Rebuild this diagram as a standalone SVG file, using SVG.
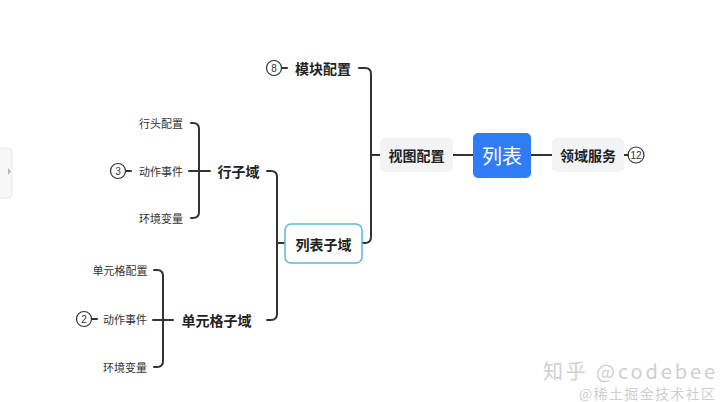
<svg xmlns="http://www.w3.org/2000/svg" width="720" height="402" viewBox="0 0 720 402">
<style>
text{font-family:"Noto Sans CJK SC","Liberation Sans",sans-serif;fill:#222;dominant-baseline:central}
.b{font-size:14px;font-weight:bold;text-anchor:middle}
.l{font-size:11px;text-anchor:middle;fill:#333}
.n{font-size:10px;text-anchor:middle;fill:#333;font-family:"Liberation Sans",sans-serif}
.c{fill:none;stroke:#333;stroke-width:2;stroke-linecap:round}
.t{fill:none;stroke:#333;stroke-width:1.2}
.g{fill:#F2F3F5}
</style>
<rect width="720" height="402" fill="#fff"/>
<g id="sidetab">
<rect x="-6" y="148" width="18" height="50" rx="4" fill="#f7f7f7" stroke="#e6e6e6"/>
<path d="M8 168 L11 171.5 L8 175 Z" fill="#b5b5b5"/>
</g>
<g id="connectors">
<path class="c" d="M453 155 H473"/>
<path class="c" d="M531 155 H552"/>
<path class="c" d="M624 155 H628"/>
<path class="c" d="M380 155 H371"/>
<path class="c" d="M359 68 H365 Q371 68 371 74 V237 Q371 243 365 243 H362"/>
<path class="c" d="M282 68 H287"/>
<path class="c" d="M285 243 H277"/>
<path class="c" d="M267 171 H271 Q277 171 277 177 V314 Q277 320 271 320 H267"/>
<path class="c" d="M191 123 H193 Q199 123 199 129 V212 Q199 218 193 218 H191"/>
<path class="c" d="M189 171 H210"/>
<path class="c" d="M126 171 H131"/>
<path class="c" d="M154 270 H157 Q163 270 163 276 V361 Q163 367 157 367 H154"/>
<path class="c" d="M153 320 H173"/>
<path class="c" d="M92 319 H97"/>
</g>
<g id="n-root">
<rect x="473" y="133" width="58" height="45" rx="5" fill="#2F7CF6"/>
<text x="502" y="155.5" style="font-size:20px;fill:#fff;text-anchor:middle">列表</text>
</g>
<g id="n-view">
<rect class="g" x="380" y="138" width="73" height="34" rx="5"/>
<text class="b" x="416.5" y="155">视图配置</text>
</g>
<g id="n-service">
<rect class="g" x="552" y="138" width="72" height="34" rx="5"/>
<text class="b" x="588" y="155">领域服务</text>
<circle class="t" cx="636" cy="155" r="8" fill="#fff"/>
<text class="n" x="636" y="155.5">12</text>
</g>
<g id="n-module">
<text class="b" x="323" y="68">模块配置</text>
<circle class="t" cx="274" cy="68" r="7.5" fill="#fff"/>
<text class="n" x="274" y="68.5">8</text>
</g>
<g id="n-listsub">
<rect x="285" y="224" width="77" height="39" rx="6" fill="#fff" stroke="#5BB8DA" stroke-width="1.5"/>
<text class="b" x="323.5" y="243.5">列表子域</text>
</g>
<g id="n-row">
<text class="b" x="238.5" y="171">行子域</text>
</g>
<g id="n-row-head"><text class="l" x="161" y="123">行头配置</text></g>
<g id="n-row-action">
<text class="l" x="161" y="171">动作事件</text>
<circle class="t" cx="118" cy="171" r="7.5" fill="#fff"/>
<text class="n" x="118" y="171.5">3</text>
</g>
<g id="n-row-env"><text class="l" x="161" y="218">环境变量</text></g>
<g id="n-cell">
<text class="b" x="216.5" y="320">单元格子域</text>
</g>
<g id="n-cell-conf"><text class="l" x="120" y="270">单元格配置</text></g>
<g id="n-cell-action">
<text class="l" x="125" y="319">动作事件</text>
<circle class="t" cx="84" cy="319" r="7.5" fill="#fff"/>
<text class="n" x="84" y="319.5">2</text>
</g>
<g id="n-cell-env"><text class="l" x="125" y="367">环境变量</text></g>
<g id="watermark">
<text x="543" y="370" textLength="172" lengthAdjust="spacing" style="font-size:20px;fill:#cfcfcf">知乎 @codebee</text>
<text x="579" y="393" textLength="136" lengthAdjust="spacing" style="font-size:14px;fill:#cfcfcf">@稀土掘金技术社区</text>
</g>
</svg>
